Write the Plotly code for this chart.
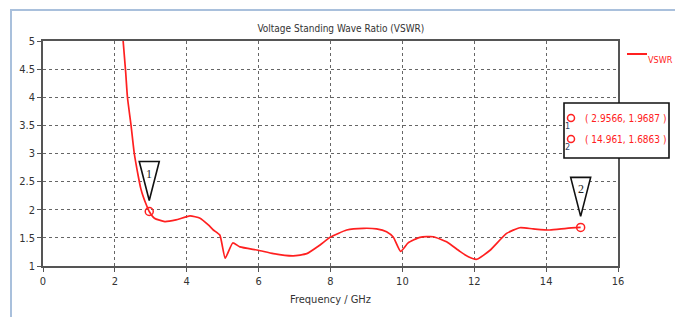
import plotly.graph_objects as go

freq = [2.23, 2.30, 2.35, 2.45, 2.54, 2.65, 2.72, 2.79, 2.88, 2.9566, 3.1, 3.39, 3.7, 4.09, 4.37, 4.6,
        4.74, 4.92, 5.07, 5.28, 5.48, 5.99, 6.41, 6.96, 7.34, 7.7, 7.99, 8.45, 8.92, 9.28,
        9.56, 9.75, 9.95, 10.16, 10.49, 10.86, 11.23, 11.6, 11.85, 12.07, 12.44, 12.9,
        13.27, 13.64, 14.1, 14.57, 14.961]
vswr = [5.0, 4.45, 4.0, 3.5, 3.0, 2.6, 2.38, 2.23, 2.08, 1.9687, 1.85, 1.79, 1.82, 1.89, 1.85, 1.73,
        1.64, 1.55, 1.14, 1.41, 1.34, 1.28, 1.22, 1.18, 1.22, 1.37, 1.51, 1.64, 1.67, 1.66,
        1.61, 1.51, 1.26, 1.41, 1.51, 1.52, 1.43, 1.26, 1.16, 1.12, 1.28, 1.58,
        1.68, 1.66, 1.64, 1.67, 1.6863]

marker_x = [2.9566, 14.961]
marker_y = [1.9687, 1.6863]
marker_ids = ["1", "2"]

series_name = "VSWR"
x_ticks = [0, 2, 4, 6, 8, 10, 12, 14, 16]
y_ticks = [1, 1.5, 2, 2.5, 3, 3.5, 4, 4.5, 5]

RED = "#ff2020"
FONT = "DejaVu Sans Condensed, Liberation Sans Narrow, sans-serif"

# page has an 8px body margin: the figure starts at (8, 8); keep it inside the window
OFF = 8
PAGE_W, PAGE_H = 683, 325
W, H = PAGE_W - 2 * OFF, PAGE_H - 2 * OFF
# plot area in page pixels
L, R, T, B = 43, 618, 41, 266
RIGHT_EDGE = OFF + W
BOTTOM_EDGE = OFF + H

def px(xp):
    return (xp - L) / (R - L)

def py(yp):
    return (B - yp) / (B - T)

fig = go.Figure()
fig.add_trace(go.Scatter(x=freq, y=vswr, mode="lines", name=series_name, showlegend=False,
                         line=dict(color=RED, width=1.7, shape="spline", smoothing=0.5)))
fig.add_trace(go.Scatter(x=marker_x, y=marker_y, mode="markers", showlegend=False,
                         marker=dict(symbol="circle-open", size=8, color=RED,
                                     line=dict(width=1.5, color=RED))))

shapes = []
annotations = []
# marker callout triangles
for mx, my, mid in zip(marker_x, marker_y, marker_ids):
    shapes.append(dict(type="path", xref="x", yref="y", xsizemode="pixel", ysizemode="pixel",
                       xanchor=mx, yanchor=my,
                       path="M -10 50 L 10 50 L 0 11 Z",
                       line=dict(color="#111111", width=1.6), fillcolor="white", layer="above"))
    annotations.append(dict(x=mx, y=my, xref="x", yref="y", text=mid, showarrow=False,
                            yshift=38, font=dict(family="Liberation Serif, serif", size=12,
                                                 color="#222222")))

# marker value box
shapes.append(dict(type="rect", xref="paper", yref="paper",
                   x0=px(564), x1=px(669), y0=py(158), y1=py(103),
                   line=dict(color="#111111", width=1.6), fillcolor="white", layer="above"))
for i, (mx, my, mid) in enumerate(zip(marker_x, marker_y, marker_ids)):
    cy = 118 + i * 21
    shapes.append(dict(type="circle", xref="paper", yref="paper", xsizemode="pixel",
                       ysizemode="pixel", xanchor=px(571), yanchor=py(cy),
                       x0=-3.5, x1=3.5, y0=-3.5, y1=3.5,
                       line=dict(color=RED, width=1.5), layer="above"))
    annotations.append(dict(x=px(572), y=py(cy + 8), xref="paper", yref="paper", text=mid,
                            showarrow=False, font=dict(family=FONT, size=9, color="#334466")))
    annotations.append(dict(x=px(583), y=py(cy), xref="paper", yref="paper",
                            xanchor="left", text=f"( {mx:g}, {my:g} )", showarrow=False,
                            font=dict(family=FONT, size=10, color=RED)))

# legend (drawn by hand for exact placement)
shapes.append(dict(type="line", xref="paper", yref="paper", x0=px(627), x1=px(647),
                   y0=py(54), y1=py(54), line=dict(color=RED, width=2)))
annotations.append(dict(x=px(674), y=py(54), xref="paper", yref="paper", xanchor="right",
                        text=series_name, showarrow=False, borderpad=0,
                        font=dict(family=FONT, size=9, color=RED)))

# light blue outer frame (left and top)
shapes.append(dict(type="line", xref="paper", yref="paper", x0=px(11), x1=px(11),
                   y0=py(BOTTOM_EDGE), y1=py(10), line=dict(color="#a9c0dc", width=2)))
shapes.append(dict(type="line", xref="paper", yref="paper", x0=px(10), x1=px(RIGHT_EDGE),
                   y0=py(10), y1=py(10), line=dict(color="#a9c0dc", width=2)))

axis_common = dict(showline=True, linecolor="#555555", linewidth=1.5, mirror=True,
                   ticks="outside", ticklen=4, tickcolor="#555555",
                   showgrid=True, gridcolor="#666666", griddash="dot", gridwidth=1,
                   zeroline=False, automargin=False,
                   tickfont=dict(family=FONT, size=11, color="#333333"))

fig.update_layout(
    width=W, height=H,
    margin=dict(l=L - OFF, r=RIGHT_EDGE - R, t=T - OFF, b=BOTTOM_EDGE - B, autoexpand=False),
    paper_bgcolor="white", plot_bgcolor="white",
    showlegend=False,
    title=dict(text="Voltage Standing Wave Ratio (VSWR)", x=px(330), xanchor="center",
               y=1 - (28 - OFF) / H, yanchor="middle",
               font=dict(family=FONT, size=10, color="#333333")),
    xaxis=dict(range=[0, 16], tickvals=x_ticks,
               title=dict(text="Frequency / GHz", standoff=8,
                          font=dict(family=FONT, size=11, color="#333333")),
               **axis_common),
    yaxis=dict(range=[1, 5], tickvals=y_ticks, ticktext=[f"{v:g}" for v in y_ticks],
               **axis_common),
    shapes=shapes, annotations=annotations,
)

fig.write_html("out.html")
